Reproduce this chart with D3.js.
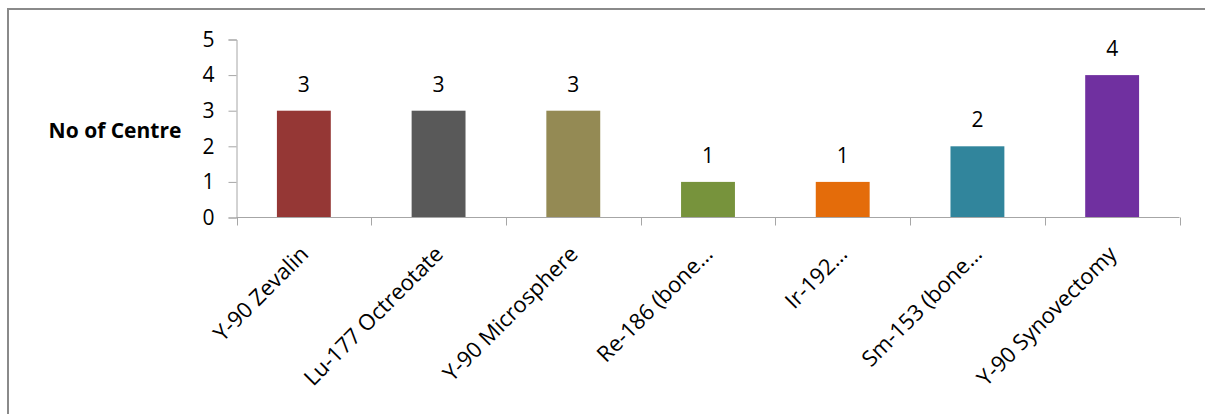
<!DOCTYPE html>
<html><head><meta charset="utf-8">
<script src="https://cdn.jsdelivr.net/npm/d3@7"></script>
<style>body{margin:0;background:#fff}svg{display:block}text{font-family:"Open Sans",Lato,sans-serif;fill:#000}</style>
</head><body><svg id="c" width="1205" height="414"></svg>
<script>
const categories = ["Y-90 Zevalin","Lu-177 Octreotate","Y-90 Microsphere","Re-186 (bone…","Ir-192…","Sm-153 (bone…","Y-90 Synovectomy"];
const values = [3,3,3,1,1,2,4];
const colors = ["#953735","#595959","#948A54","#77933C","#E46C0A","#31859C","#7030A0"];
const yTicks = [0,1,2,3,4,5];
const yTitle = "No of Centre";

const svg = d3.select("#c");
svg.append("rect").attr("x",8).attr("y",9).attr("width",1400).attr("height",600)
  .attr("fill","#fff").attr("stroke","#8a8a8a").attr("stroke-width",2);

const x = d3.scaleBand().domain(categories).range([236.5,1179.5]).paddingInner(0.6).paddingOuter(0.3);
const y = d3.scaleLinear().domain([0,5]).range([217.5,39.5]);

svg.selectAll(".bar").data(values).join("rect")
  .attr("x",(d,i)=>x(categories[i])).attr("width",x.bandwidth())
  .attr("y",d=>y(d)).attr("height",d=>y(0)-y(d)).attr("fill",(d,i)=>colors[i]);

svg.selectAll(".lbl").data(values).join("text")
  .attr("x",(d,i)=>x(categories[i])+x.bandwidth()/2).attr("y",d=>y(d)-19)
  .attr("text-anchor","middle").style("font-size","21px").text(d=>d);

const yAxis = svg.append("g").attr("transform","translate(236.5,0)")
  .call(d3.axisLeft(y).tickValues(yTicks).tickFormat(d3.format("d")).tickSize(8).tickPadding(14));
yAxis.selectAll("text").style("font-size","21px").attr("fill","#000");
yAxis.selectAll("line,path").attr("stroke","#a6a6a6");

const xb = d3.scaleLinear().domain([0,categories.length]).range([236.5,1179.5]);
const xAxis = svg.append("g").attr("transform","translate(0,217.5)");
xAxis.append("line").attr("x1",xb(0)).attr("x2",xb(7)).attr("stroke","#a6a6a6");
xAxis.selectAll(".tk").data(d3.range(categories.length+1)).join("line")
  .attr("x1",d=>Math.round(xb(d))+0.5).attr("x2",d=>Math.round(xb(d))+0.5).attr("y1",0).attr("y2",8).attr("stroke","#a6a6a6");
xAxis.selectAll(".xl").data(categories).join("text")
  .attr("transform",d=>`translate(${x(d)+x.bandwidth()/2+6},${38}) rotate(-45)`)
  .attr("text-anchor","end").style("font-size","22px").text(d=>d);

svg.append("text").attr("x",115).attr("y",138).attr("text-anchor","middle")
  .style("font-size","21px").style("font-weight","bold").text(yTitle);
</script></body></html>
